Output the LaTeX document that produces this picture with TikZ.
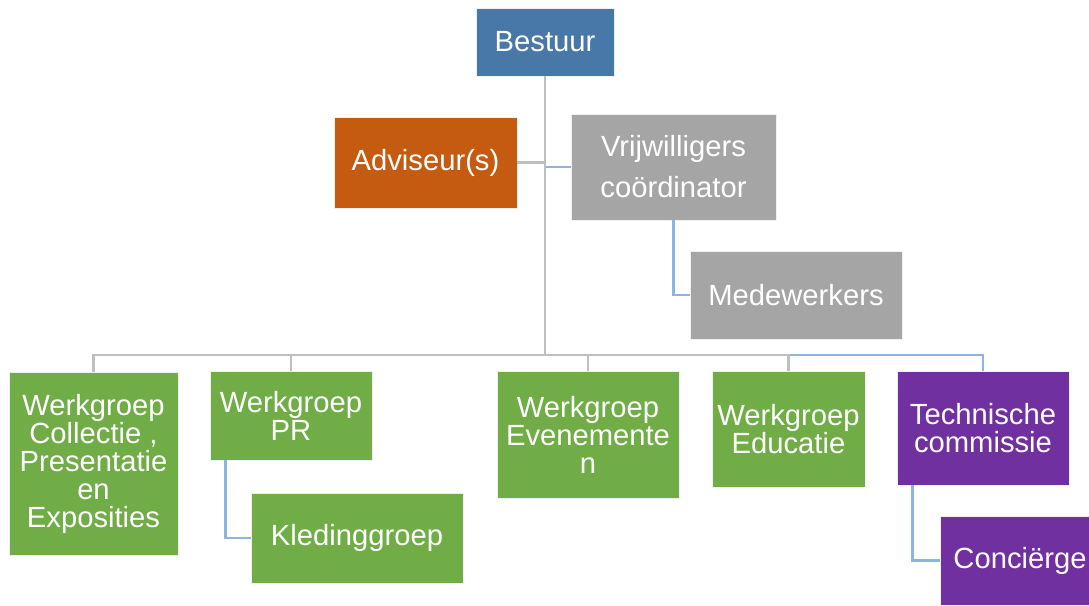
\documentclass[tikz,border=0pt]{standalone}
\usepackage{fontspec}
\setmainfont{Liberation Sans}
\definecolor{cblue}{HTML}{4878A8}
\definecolor{corange}{HTML}{C55A11}
\definecolor{cgray}{HTML}{A5A5A5}
\definecolor{cgreen}{HTML}{70AD47}
\definecolor{cpurple}{HTML}{7030A0}
\definecolor{lgray}{HTML}{BFBFBF}
\definecolor{lblue}{HTML}{8DB4E2}
\begin{document}
\begin{tikzpicture}[x=1pt,y=-1pt,
  box/.style={rectangle, inner sep=0pt, draw=white!88!gray, line width=0.8pt,
    text=white, align=center, font=\fontsize{29.2}{28}\selectfont},
  gl/.style={draw=lgray, line width=2.8pt},
  bl/.style={draw=lblue, line width=2.8pt}]
\clip (0,0) rectangle (1089,605);
\fill[white] (0,0) rectangle (1089,605);
\coordinate (bus) at (0,355);
% nodes
\node[box, fill=cblue, minimum width=138pt, minimum height=68pt] (bestuur) at (545,42) {Bestuur};
\node[box, fill=corange, minimum width=183pt, minimum height=91pt] (adv) at (425.5,162.5) {Adviseur(s)};
\node[box, fill=cgray, minimum width=205pt, minimum height=106pt, font=\fontsize{29.2}{41}\selectfont] (vrij) at (673.5,167) {Vrijwilligers\\coördinator};
\node[box, fill=cgray, minimum width=212pt, minimum height=88pt] (mede) at (796,295) {Medewerkers};
\node[box, fill=cgreen, minimum width=169pt, minimum height=183pt] (coll) at (93.5,463.5) {Werkgroep\\Collectie ,\\Presentatie\\en\\Exposities};
\node[box, fill=cgreen, minimum width=162pt, minimum height=89pt] (pr) at (291,415.5) {Werkgroep\\PR};
\node[box, fill=cgreen, minimum width=212pt, minimum height=90pt] (kled) at (357,538) {Kledinggroep};
\node[box, fill=cgreen, minimum width=182pt, minimum height=127pt] (even) at (588,434.5) {Werkgroep\\Evenemente\\n};
\node[box, fill=cgreen, minimum width=153pt, minimum height=116pt] (educ) at (788.5,429) {Werkgroep\\Educatie};
\node[box, fill=cpurple, minimum width=172pt, minimum height=114pt] (tech) at (983,428) {Technische\\commissie};
\node[box, fill=cpurple, minimum width=160pt, minimum height=89pt] (conc) at (1020,560.5) {Conciërge};
% connectors
\draw[bl] (bestuur.south) |- (vrij.west);
\draw[bl] (bestuur.south) -- (bestuur.south |- bus) -| (tech.north);
\draw[gl] (bestuur.south) |- (adv.east);
\draw[gl] (bestuur.south) -- (bestuur.south |- bus) -| (coll.north);
\draw[gl] (bestuur.south) -- (bestuur.south |- bus) -| (pr.north);
\draw[gl] (bestuur.south) -- (bestuur.south |- bus) -| (even.north);
\draw[gl] (bestuur.south) -- (bestuur.south |- bus) -| (educ.north);
\draw[bl] (vrij.south) |- (mede.west);
\draw[bl] ([xshift=16pt]pr.south west) |- (kled.west);
\draw[bl] ([xshift=16pt]tech.south west) |- (conc.west);
\end{tikzpicture}
\end{document}
